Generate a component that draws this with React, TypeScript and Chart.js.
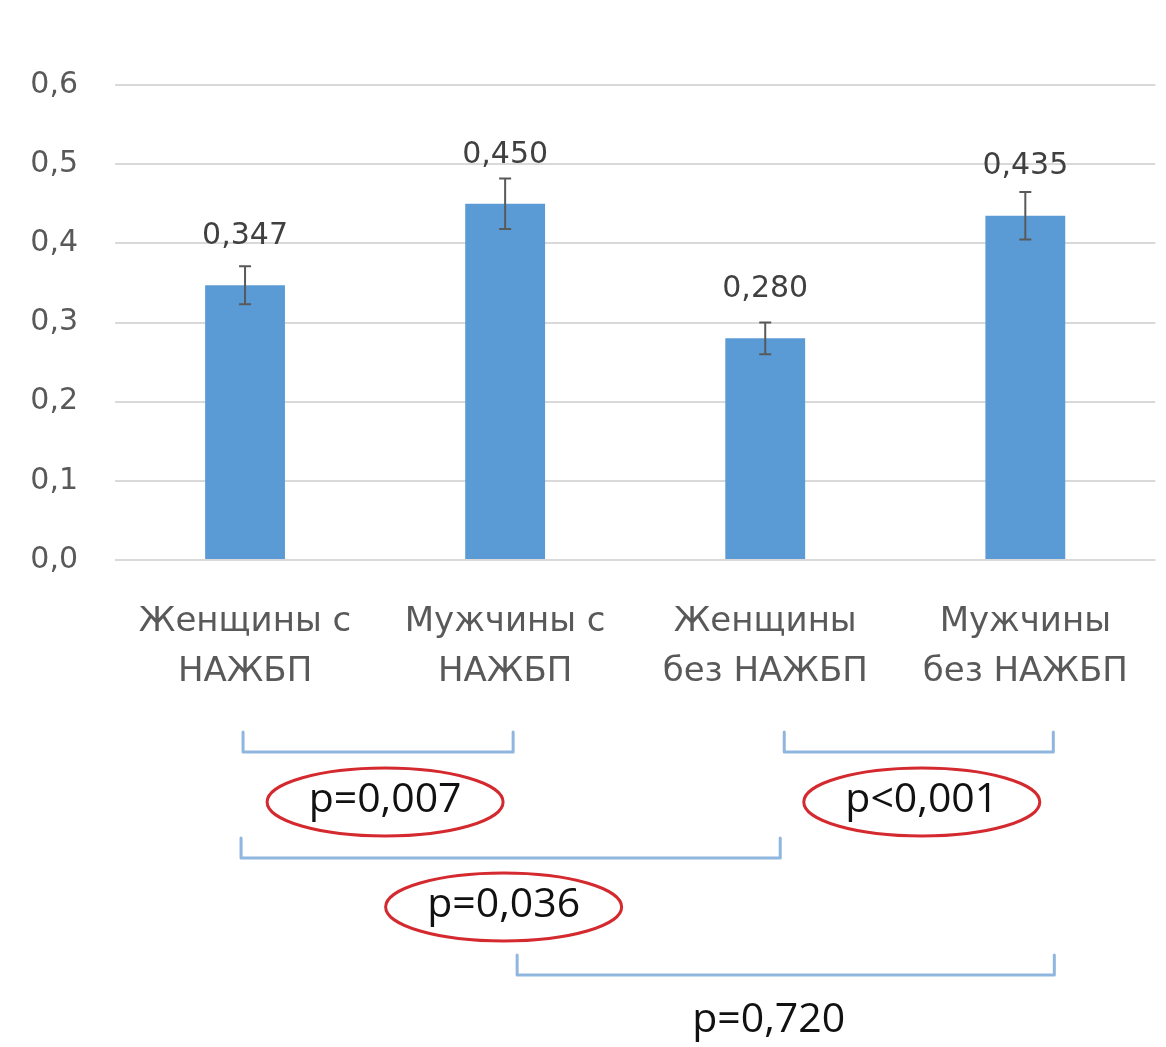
import React, { useEffect, useRef } from "react";
import { Chart, registerables } from "chart.js";

Chart.register(...registerables);

// ---- data ----
const categories: string[][] = [
  ["Женщины с", "НАЖБП"],
  ["Мужчины с", "НАЖБП"],
  ["Женщины", "без НАЖБП"],
  ["Мужчины", "без НАЖБП"],
];
const values = [0.347, 0.45, 0.28, 0.435];
const errors = [0.024, 0.032, 0.02, 0.03];
const valueLabels = ["0,347", "0,450", "0,280", "0,435"];

const compFrom = [0, 2, 0, 1];
const compTo = [1, 3, 2, 3];
const pLabels = ["p=0,007", "p<0,001", "p=0,036", "p=0,720"];
const pCircled = [true, true, true, false];

// ---- layout (styles, not data) ----
const bracketTop = [732, 732, 838, 955];
const bracketBottom = [752, 752, 858, 975];
const bracketOffFrom = [-2, 19, -4, 12];
const bracketOffTo = [8, 28, 15, 29];
const pTextY = [800, 800, 905, 1020];
const pTextDx = [7, 3, -7, -17];

const AXIS_FONT = "'DejaVu Sans', sans-serif";
const P_FONT = "'Open Sans', 'DejaVu Sans', sans-serif";

const overlayPlugin = {
  id: "overlay",
  afterDatasetsDraw(chart: any) {
    const ctx = chart.ctx;
    const x = chart.scales.x;
    const y = chart.scales.y;
    const meta = chart.getDatasetMeta(0);
    ctx.save();
    // error bars
    ctx.strokeStyle = "#595959";
    ctx.lineWidth = 2;
    values.forEach((v, i) => {
      const px = meta.data[i].x;
      const yTop = y.getPixelForValue(v + errors[i]);
      const yBot = y.getPixelForValue(v - errors[i]);
      ctx.beginPath();
      ctx.moveTo(px, yTop);
      ctx.lineTo(px, yBot);
      ctx.moveTo(px - 6, yTop);
      ctx.lineTo(px + 6, yTop);
      ctx.moveTo(px - 6, yBot);
      ctx.lineTo(px + 6, yBot);
      ctx.stroke();
    });
    // value labels
    ctx.fillStyle = "#404040";
    ctx.font = `30px ${AXIS_FONT}`;
    ctx.textAlign = "center";
    ctx.textBaseline = "middle";
    values.forEach((v, i) => {
      const el = meta.data[i];
      ctx.fillText(valueLabels[i], el.x, el.y - 49);
    });
    // brackets
    ctx.strokeStyle = "#8fb6de";
    ctx.lineWidth = 3;
    ctx.lineJoin = "round";
    ctx.lineCap = "round";
    for (let k = 0; k < compFrom.length; k++) {
      const x1 = x.getPixelForValue(compFrom[k]) + bracketOffFrom[k];
      const x2 = x.getPixelForValue(compTo[k]) + bracketOffTo[k];
      ctx.beginPath();
      ctx.moveTo(x1, bracketTop[k]);
      ctx.lineTo(x1, bracketBottom[k]);
      ctx.lineTo(x2, bracketBottom[k]);
      ctx.lineTo(x2, bracketTop[k]);
      ctx.stroke();
    }
    // p labels
    for (let k = 0; k < pLabels.length; k++) {
      const x1 = x.getPixelForValue(compFrom[k]) + bracketOffFrom[k];
      const x2 = x.getPixelForValue(compTo[k]) + bracketOffTo[k];
      const cx = (x1 + x2) / 2 + pTextDx[k];
      const cy = pTextY[k];
      ctx.fillStyle = "#111111";
      ctx.font = `41px ${P_FONT}`;
      ctx.textAlign = "center";
      ctx.textBaseline = "middle";
      ctx.fillText(pLabels[k], cx, cy);
      if (pCircled[k]) {
        ctx.strokeStyle = "#d42a2f";
        ctx.lineWidth = 3;
        ctx.beginPath();
        ctx.ellipse(cx, cy + 2, 118, 34, 0, 0, Math.PI * 2);
        ctx.stroke();
      }
    }
    ctx.restore();
  },
};

export default function App() {
  const ref = useRef<HTMLCanvasElement | null>(null);
  useEffect(() => {
    document.body.style.margin = "0";
    document.body.style.background = "#ffffff";
    const chart = new Chart(ref.current as HTMLCanvasElement, {
      type: "bar",
      data: {
        labels: categories,
        datasets: [
          {
            data: values,
            backgroundColor: "#5b9bd5",
            borderWidth: 0,
            barPercentage: 0.307,
            categoryPercentage: 1,
          },
        ],
      },
      plugins: [overlayPlugin],
      options: {
        animation: false,
        responsive: false,
        maintainAspectRatio: false,
        devicePixelRatio: 1,
        layout: { padding: { top: 85, left: 0, right: 9, bottom: 0 } },
        plugins: {
          legend: { display: false },
          tooltip: { enabled: false },
        },
        scales: {
          y: {
            min: 0,
            max: 0.6,
            border: { display: false },
            grid: { color: "#d9d9d9", lineWidth: 2, drawTicks: false },
            ticks: {
              stepSize: 0.1,
              padding: 37,
              color: "#595959",
              font: { family: AXIS_FONT, size: 30 },
              callback: (v: any) => Number(v).toFixed(1).replace(".", ","),
            },
            afterFit: (s: any) => {
              s.width = 115;
            },
          },
          x: {
            border: { display: false },
            grid: { display: false, drawTicks: false },
            ticks: {
              padding: 37,
              color: "#595959",
              font: { family: AXIS_FONT, size: 34, lineHeight: 1.47 },
              maxRotation: 0,
              autoSkip: false,
            },
            afterFit: (s: any) => {
              s.height = 1047 - 560;
            },
          },
        },
      },
    });
    return () => chart.destroy();
  }, []);
  return (
    <div style={{ width: 1166, height: 1047, background: "#fff" }}>
      <canvas ref={ref} width={1166} height={1047} style={{ display: "block" }} />
    </div>
  );
}
